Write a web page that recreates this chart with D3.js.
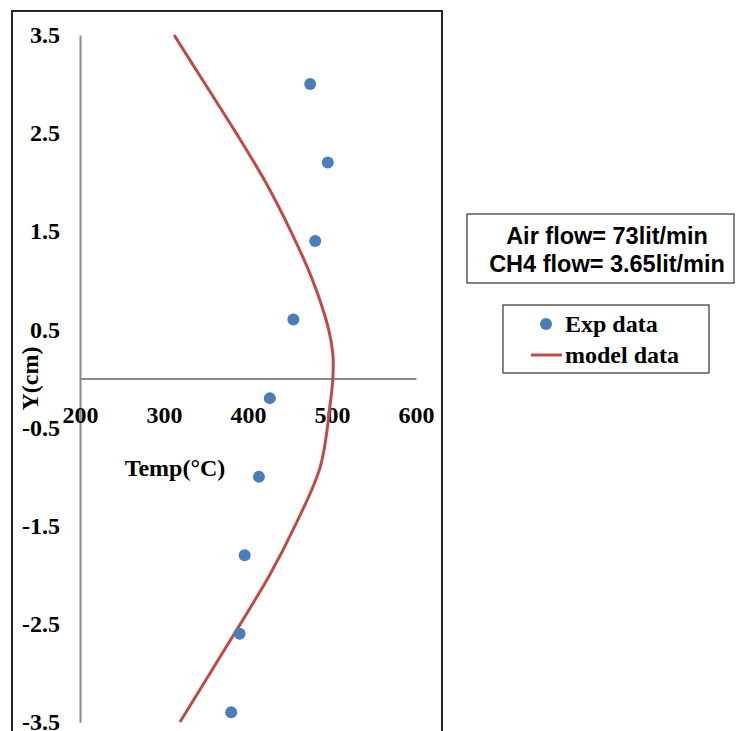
<!DOCTYPE html>
<html>
<head>
<meta charset="utf-8">
<script src="https://cdn.jsdelivr.net/npm/d3@7"></script>
<style>
	body { margin: 0; background: #fff; }
	svg { display: block; }
	.tick text { font-family: "Liberation Serif", "Times New Roman", serif; font-weight: bold; font-size: 24px; fill: #000; }
</style>
</head>
<body>
<svg id="chart" width="737" height="731"></svg>
<script>
"use strict";

// Axis ticks
var tempTicks = [200, 300, 400, 500, 600];
var yTicks = [3.5, 2.5, 1.5, 0.5, -0.5, -1.5, -2.5, -3.5];

// Exp data (temperature in C, height in cm)
var expTemp = [474, 495, 480, 454, 426, 413, 396, 390, 380];
var expY = [3.0, 2.2, 1.4, 0.6, -0.2, -1.0, -1.8, -2.6, -3.4];

// model data
var modelTemp = [312, 349, 386, 421, 451, 477, 496, 501, 501, 498, 486, 456, 426, 391, 355, 319];
var modelY = [3.5, 3.0, 2.5, 2.0, 1.5, 1.0, 0.5, 0.25, 0.0, -0.25, -0.9, -1.5, -2.0, -2.5, -3.0, -3.5];

var infoLines = ['Air flow= 73lit/min', 'CH4 flow= 3.65lit/min'];
var legendLabels = ['Exp data', 'model data'];

+function(d3){

	var colors = {
		exp: '#4a7ebb',
		model: '#be4b48',
		axis: '#8c8c8c',
		frame: '#262626'
	};

	var svg = d3.select('#chart');

	var x = d3.scaleLinear().domain([200, 600]).range([80, 416]);
	var y = d3.scaleLinear().domain([-3.5, 3.5]).range([722, 35]);

	// outer chart frame (runs off the bottom)
	svg.append('rect')
		.attr('x', 12)
		.attr('y', 11)
		.attr('width', 430)
		.attr('height', 760)
		.attr('fill', 'none')
		.attr('stroke', colors.frame)
		.attr('stroke-width', 2);

	// Y axis (plain hyphen for negatives, like the original)
	var yAxis = svg.append('g')
		.attr('transform', 'translate(' + x(200) + ',0)')
		.call(d3.axisLeft(y).tickValues(yTicks).tickSize(0).tickPadding(20)
			.tickFormat(function(d){ return d.toFixed(1); }));
	yAxis.select('.domain').attr('stroke', colors.axis).attr('stroke-width', 2);

	// X axis crosses at y = 0
	var xAxis = svg.append('g')
		.attr('transform', 'translate(0,' + y(0) + ')')
		.call(d3.axisBottom(x).tickValues(tempTicks).tickSize(0).tickPadding(27).tickFormat(d3.format('d')));
	xAxis.select('.domain').attr('stroke', colors.axis).attr('stroke-width', 2);

	// axis titles
	svg.append('text')
		.attr('transform', 'translate(38,' + y(0) + ') rotate(-90)')
		.attr('text-anchor', 'middle')
		.style('font-family', '"Liberation Serif", serif')
		.style('font-weight', 'bold')
		.style('font-size', '24px')
		.text('Y(cm)');

	svg.append('text')
		.attr('x', 175)
		.attr('y', 476)
		.attr('text-anchor', 'middle')
		.style('font-family', '"Liberation Serif", serif')
		.style('font-weight', 'bold')
		.style('font-size', '24px')
		.text('Temp(°C)');

	// model curve
	var line = d3.line()
		.x(function(d){ return x(d[0]); })
		.y(function(d){ return y(d[1]); })
		.curve(d3.curveCatmullRom);

	svg.append('path')
		.datum(d3.zip(modelTemp, modelY))
		.attr('d', line)
		.attr('fill', 'none')
		.attr('stroke', colors.model)
		.attr('stroke-width', 3);

	// exp points
	svg.append('g').selectAll('circle')
		.data(d3.zip(expTemp, expY))
		.join('circle')
		.attr('cx', function(d){ return x(d[0]); })
		.attr('cy', function(d){ return y(d[1]); })
		.attr('r', 6)
		.attr('fill', colors.exp);

	// info box
	var info = svg.append('g');
	info.append('rect')
		.attr('x', 467)
		.attr('y', 214)
		.attr('width', 267)
		.attr('height', 69)
		.attr('fill', '#fff')
		.attr('stroke', '#333')
		.attr('stroke-width', 1.2);
	info.selectAll('text')
		.data(infoLines)
		.join('text')
		.attr('x', 607)
		.attr('y', function(d, i){ return 244 + i * 28; })
		.attr('text-anchor', 'middle')
		.style('font-family', '"Liberation Sans", Arial, sans-serif')
		.style('font-weight', 'bold')
		.style('font-size', '23.5px')
		.text(function(d){ return d; });

	// legend
	var legend = svg.append('g');
	legend.append('rect')
		.attr('x', 503)
		.attr('y', 305)
		.attr('width', 206)
		.attr('height', 68)
		.attr('fill', '#fff')
		.attr('stroke', '#333')
		.attr('stroke-width', 1.2);
	legend.append('circle')
		.attr('cx', 546)
		.attr('cy', 324)
		.attr('r', 6)
		.attr('fill', colors.exp);
	legend.append('line')
		.attr('x1', 531)
		.attr('x2', 562)
		.attr('y1', 355)
		.attr('y2', 355)
		.attr('stroke', colors.model)
		.attr('stroke-width', 3);
	legend.selectAll('text')
		.data(legendLabels)
		.join('text')
		.attr('x', 565)
		.attr('y', function(d, i){ return 332 + i * 31; })
		.style('font-family', '"Liberation Serif", serif')
		.style('font-weight', 'bold')
		.style('font-size', '24px')
		.text(function(d){ return d; });

}(d3);
</script>
</body>
</html>
